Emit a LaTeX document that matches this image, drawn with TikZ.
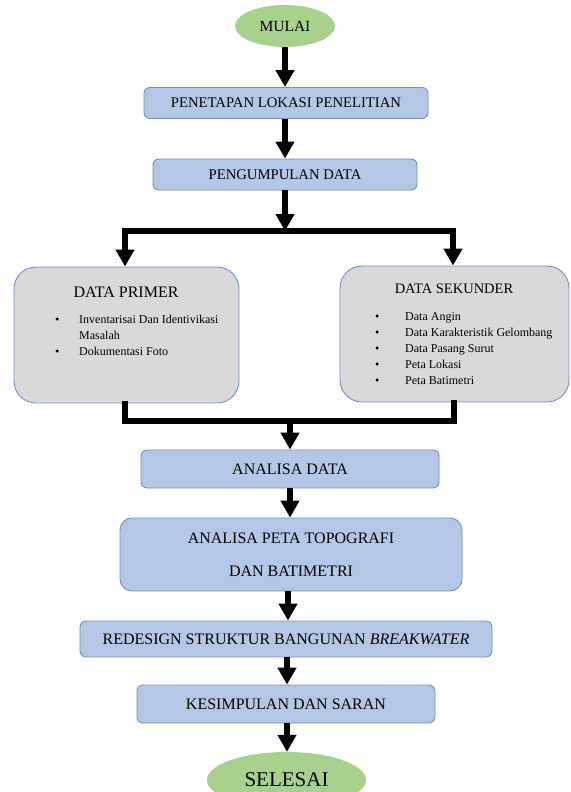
\documentclass[tikz,border=0pt]{standalone}
\usepackage{fontspec}
\setmainfont{Liberation Serif}
\usetikzlibrary{arrows.meta,shapes.geometric,calc}
\definecolor{boxblue}{HTML}{B4C7E7}
\definecolor{boxedge}{HTML}{7391C2}
\definecolor{ovalgreen}{HTML}{A9D18E}
\definecolor{boxgray}{HTML}{D9D9D9}
\begin{document}
\begin{tikzpicture}[x=1pt,y=-1pt,
  bluebox/.style={draw=boxedge, line width=0.9pt, fill=boxblue, rounded corners=6pt,
    inner sep=0pt, align=center},
  upperfont/.style={font=\fontsize{14.7}{17}\selectfont},
  lowerfont/.style={font=\fontsize{16}{19}\selectfont},
  graybox/.style={draw=boxedge, line width=0.9pt, fill=boxgray, rounded corners=22pt, inner sep=0pt},
  oval/.style={ellipse, fill=ovalgreen, draw=none, inner sep=0pt},
  flow/.style={line width=5.5pt, -{Triangle[width=18pt,length=17pt]}},
  bar/.style={line width=5.5pt, line cap=rect, line join=miter},
  listtext/.style={inner sep=0pt, anchor=base west, font=\fontsize{12}{16}\selectfont}
]
\useasboundingbox (0,0) rectangle (570,792);

% nodes
\node[oval, minimum width=100pt, minimum height=42pt, font=\fontsize{15.5}{18}\selectfont] (mulai) at (285,26) {MULAI};
\node[bluebox, upperfont, minimum width=284pt, minimum height=31pt] (pen) at (286,103) {PENETAPAN LOKASI PENELITIAN};
\node[bluebox, upperfont, minimum width=264pt, minimum height=31pt] (pgd) at (285,174.5) {PENGUMPULAN DATA};

\node[graybox, minimum width=225pt, minimum height=136pt] (prim) at (126.5,335) {};
\node[graybox, minimum width=229pt, minimum height=136pt] (sek) at (454.5,334) {};

\node[inner sep=0pt, font=\fontsize{16}{19}\selectfont] (primt) at (126,292) {DATA PRIMER};
\node[inner sep=0pt, font=\fontsize{14.5}{17}\selectfont] (sekt) at (454,289) {DATA SEKUNDER};

\node[listtext] (priml) at (55,323) {\begin{tabular}[t]{@{}l@{}l@{}}
\makebox[24pt][l]{\textbullet} & Inventarisai Dan Identivikasi\\
 & Masalah\\
\makebox[24pt][l]{\textbullet} & Dokumentasi Foto
\end{tabular}};
\node[listtext] (sekl) at (375,320) {\begin{tabular}[t]{@{}l@{}l@{}}
\makebox[30pt][l]{\textbullet} & Data Angin\\
\makebox[30pt][l]{\textbullet} & Data Karakteristik Gelombang\\
\makebox[30pt][l]{\textbullet} & Data Pasang Surut\\
\makebox[30pt][l]{\textbullet} & Peta Lokasi\\
\makebox[30pt][l]{\textbullet} & Peta Batimetri
\end{tabular}};

\node[bluebox, lowerfont, minimum width=298pt, minimum height=38pt] (ana) at (290,469) {ANALISA DATA};
\node[bluebox, rounded corners=12pt, minimum width=342pt, minimum height=73pt,
  font=\fontsize{16}{33}\selectfont] (peta) at (291,554.5) {ANALISA PETA TOPOGRAFI\\DAN BATIMETRI};
\node[bluebox, lowerfont, minimum width=412pt, minimum height=36pt] (red) at (286,639) {REDESIGN STRUKTUR BANGUNAN \textit{BREAKWATER}};
\node[bluebox, lowerfont, minimum width=298pt, minimum height=38pt] (kes) at (286,704) {KESIMPULAN DAN SARAN};
\node[oval, minimum width=159pt, minimum height=56pt, font=\fontsize{21}{24}\selectfont] (sel) at (286.5,780) {SELESAI};

% junction coordinates
\coordinate (split) at (285,231);
\coordinate (splitL) at (125,231);
\coordinate (splitR) at (453,231);
\coordinate (mergeL) at (125,421);
\coordinate (mergeR) at (454,421);
\coordinate (merge) at (290,421);

% connectors
\draw[flow] (mulai.south) -- (mulai.south |- pen.north);
\draw[flow] (pen.south -| mulai) -- (mulai |- pgd.north);
\draw[flow] (pgd.south) -- (split);
\draw[bar] (splitL) -- (splitR);
\draw[flow] (splitL) -- (splitL |- prim.north);
\draw[flow] (splitR) -- (splitR |- sek.north);
\draw[bar] (mergeL |- prim.south) -- (mergeL) -- (mergeR) -- (mergeR |- sek.south);
\draw[flow] (merge) -- (merge |- ana.north);
\draw[flow] (ana.south) -- (ana.south |- peta.north);
\draw[flow] ([xshift=-3pt]peta.south) -- ([xshift=-3pt]peta.south |- red.north);
\draw[flow] ([xshift=1pt]red.south) -- ([xshift=1pt]red.south |- kes.north);
\draw[flow] ([xshift=1pt]kes.south) -- ([xshift=1pt]kes.south |- sel.north);
\end{tikzpicture}
\end{document}
